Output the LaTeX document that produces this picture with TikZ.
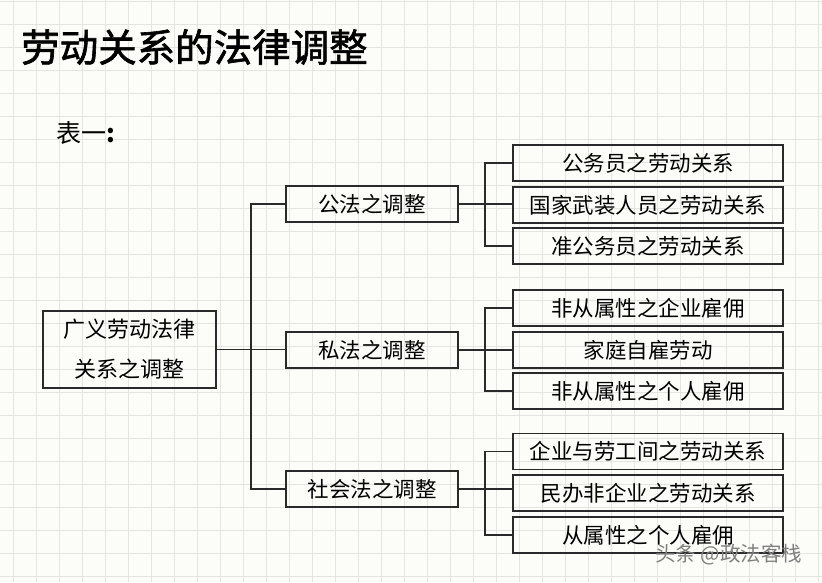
\documentclass[tikz,border=0pt]{standalone}
\usepackage{fontspec}
\setmainfont{Noto Sans CJK SC}
\newfontfamily\cjk{Noto Sans CJK SC}
\newfontfamily\cjkfb[FakeBold=1.6]{Noto Sans CJK SC}
\definecolor{bgc}{HTML}{FCFCF8}
\definecolor{gridc}{HTML}{E4E4E0}
\definecolor{linec}{HTML}{2A2A2A}
\begin{document}
\begin{tikzpicture}[x=1pt,y=-1pt,
  boxline/.style={draw=linec, line width=1.6pt, inner sep=0pt},
  leafbox/.style={boxline, minimum width=270pt, minimum height=36pt, font=\cjk\fontsize{21.5}{24}\selectfont},
  midbox/.style={boxline, minimum width=172pt, minimum height=36pt, font=\cjk\fontsize{21.5}{24}\selectfont},
  conn/.style={draw=linec, line width=1.3pt},
  wmark/.style={anchor=west, inner sep=0pt, font=\cjk\fontsize{20.5}{22}\selectfont}]
\useasboundingbox (0,0) rectangle (822,582);
\fill[bgc] (0,0) rectangle (822,582);
\foreach \i in {0,...,35} \draw[gridc, line width=0.8pt] ({13+23*\i},0) -- ({13+23*\i},582);
\foreach \j in {0,...,25} \draw[gridc, line width=0.8pt] (0,{1.5+23*\j}) -- (822,{1.5+23*\j});

\node[anchor=west, inner sep=0pt, font=\cjkfb\fontsize{38.5}{40}\selectfont] (title) at (21,47) {劳动关系的法律调整};
\node[anchor=west, inner sep=0pt, font=\cjk\fontsize{25}{28}\selectfont] (tab) at (56,133) {表一\textbf{:}};

\node[boxline, minimum width=173pt, minimum height=77pt, align=center, font=\cjk\fontsize{22}{40}\selectfont] (root) at (129.5,349.5) {广义劳动法律\\关系之调整};

\node[midbox] (m1) at (372,204) {公法之调整};
\node[midbox] (m2) at (372,350) {私法之调整};
\node[midbox] (m3) at (372,489) {社会法之调整};

\node[leafbox] (l11) at (648,163) {公务员之劳动关系};
\node[leafbox] (l12) at (648,205) {国家武装人员之劳动关系};
\node[leafbox] (l13) at (648,246) {准公务员之劳动关系};
\node[leafbox] (l21) at (648,308) {非从属性之企业雇佣};
\node[leafbox] (l22) at (648,350) {家庭自雇劳动};
\node[leafbox] (l23) at (648,391) {非从属性之个人雇佣};
\node[leafbox] (l31) at (648,451.5) {企业与劳工间之劳动关系};
\node[leafbox] (l32) at (648,493) {民办非企业之劳动关系};
\node[leafbox] (l33) at (648,535) {从属性之个人雇佣};

\coordinate (b0) at (251,350);
\coordinate (b1) at (485,204);
\coordinate (b2) at (485,350);
\coordinate (b3) at (485,489);

\draw[conn] (root.east) -- (root.east -| m2.west);
\draw[conn] (m1.west) -| (b0) |- (m3.west);

\draw[conn] (m1.east) -- (m1.east -| l12.west);
\draw[conn] (l11.west) -| (b1) |- (l13.west);
\draw[conn] (m2.east) -- (m2.east -| l22.west);
\draw[conn] (l21.west) -| (b2) |- (l23.west);
\draw[conn] (m3.east) -- (m3.east -| l32.west);
\draw[conn] (l31.west) -| (b3) |- (l33.west);

\node[wmark, text=black!50] (wm) at (655,555) {头条 @政法客栈};
\end{tikzpicture}
\end{document}
